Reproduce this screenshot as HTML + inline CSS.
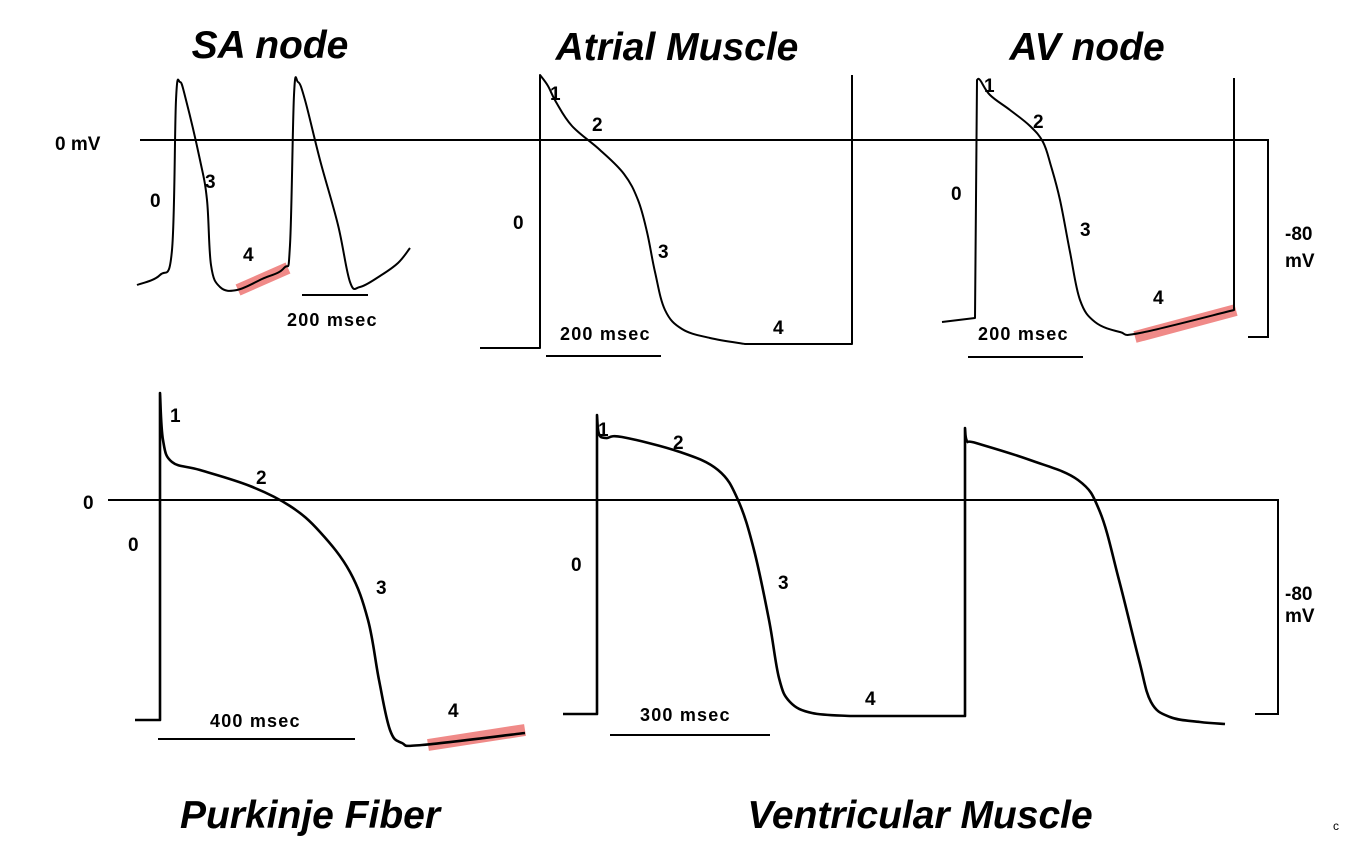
<!DOCTYPE html>
<html><head><meta charset="utf-8"><style>
html,body{margin:0;padding:0;background:#fff;}
svg{display:block;font-family:"Liberation Sans",sans-serif;}
.t{font-size:39px;font-weight:bold;font-style:italic;text-anchor:middle;}
.l{font-size:19px;font-weight:bold;}
.s{font-size:18px;font-weight:bold;letter-spacing:1.2px;}
</style></head><body>
<svg id="c" width="1358" height="853" viewBox="0 0 1358 853" xmlns="http://www.w3.org/2000/svg">
<g>
<text class="t" x="270" y="58">SA node</text>
<text class="t" x="677" y="60">Atrial Muscle</text>
<text class="t" x="1087" y="60">AV node</text>
<text class="t" x="310" y="828">Purkinje Fiber</text>
<text class="t" x="920" y="828">Ventricular Muscle</text>
</g>
<g stroke="#000" stroke-width="2" fill="none">
<polyline points="140,140 1268,140 1268,337 1248,337"/>
<polyline points="108,500 1278,500 1278,714 1255,714"/>
<line x1="302" y1="295" x2="368" y2="295"/>
<line x1="546" y1="356" x2="661" y2="356"/>
<line x1="968" y1="357" x2="1083" y2="357"/>
<line x1="158" y1="739" x2="355" y2="739"/>
<line x1="610" y1="735" x2="770" y2="735"/>
</g>
<g class="l">
<text x="55" y="150">0 mV</text>
<text x="83" y="509">0</text>
<text x="1285" y="240">-80</text>
<text x="1285" y="267">mV</text>
<text x="1285" y="600">-80</text>
<text x="1285" y="622">mV</text>
</g>
<g class="s">
<text x="287" y="326">200 msec</text>
<text x="560" y="340">200 msec</text>
<text x="978" y="340">200 msec</text>
<text x="210" y="727">400 msec</text>
<text x="640" y="721">300 msec</text>
</g>
<g id="highlights"></g>
<g id="curves"></g>
<g id="phases" class="l"></g>
<text x="1333" y="830" font-size="12">c</text>
</svg>
<script>
const saCurve=[[137,285],[160,275],[172,250],[176,100],[180,82],[186,100],[200,160],[207,200],[211,265],[220,287],[237,290],[262,279],[284,268],[290,245],[294,95],[298,82],[305,100],[320,160],[338,225],[350,282],[360,287],[380,276],[398,263],[410,248]];
const atrialCurve=[[480,348],[540,348],[540,75],[548,86],[556,102],[572,126],[600,150],[624,174],[638,200],[647,232],[655,272],[665,310],[682,329],[710,338],[745,344],[852,344],[852,75]];
const avCurve=[[942,322],[975,318],[977,80],[980,80],[990,95],[1010,110],[1030,126],[1043,142],[1051,166],[1060,200],[1070,252],[1080,300],[1095,322],[1120,332],[1140,333],[1234,310],[1234,78]];
const purkinjeCurve=[[135,720],[160,720],[160,393],[163,440],[172,462],[200,470],[250,486],[290,506],[320,532],[350,572],[368,620],[379,680],[390,730],[402,743],[422,745],[525,733]];
const ventricularCurve=[[563,714],[597,714],[597,415],[599,434],[606,438],[622,437],[680,452],[718,470],[738,500],[754,550],[769,620],[779,678],[790,702],[812,713],[850,716],[965,716],[965,428],[967,441],[976,443],[1030,460],[1078,480],[1100,512],[1119,580],[1139,660],[1151,702],[1170,717],[1200,722],[1225,724]];
const highlightSegs=[[238,290,288,268],[1135,337,1236,310],[428,745,525,730]];
const phaseLabels=[["0",150,207],["3",205,188],["4",243,261],["1",550,100],["2",592,131],["0",513,229],["3",658,258],["4",773,334],["1",984,92],["2",1033,128],["0",951,200],["3",1080,236],["4",1153,304],["1",170,422],["2",256,484],["0",128,551],["3",376,594],["4",448,717],["1",598,436],["2",673,449],["0",571,571],["3",778,589],["4",865,705]];
const curveNames=["sa-node-curve","atrial-curve","av-node-curve","purkinje-curve","ventricular-curve"];
const curveWidths=[2,2,2,2.6,2.6];
const NS="http://www.w3.org/2000/svg";
function isStraight(a,b){
  if(!a||!b) return false;
  const dx=Math.abs(a[0]-b[0]),dy=Math.abs(a[1]-b[1]);
  return (dx<=3&&dy>50)||(dy<=1&&dx>30)||(a[0]<b[0]&&a[1]===b[1]&&dx>20);
}
function pathFor(pts){
  let d="M"+pts[0][0]+","+pts[0][1];
  for(let i=0;i<pts.length-1;i++){
    const p1=pts[i],p2=pts[i+1];
    if(isStraight(p1,p2)){d+=" L"+p2[0]+","+p2[1];continue;}
    let p0=pts[i-1]||p1,p3=pts[i+2]||p2;
    if(isStraight(pts[i-1],p1)) p0=p1;
    if(isStraight(p2,pts[i+2])) p3=p2;
    const t=0.18;
    const c1=[p1[0]+(p2[0]-p0[0])*t,p1[1]+(p2[1]-p0[1])*t];
    const c2=[p2[0]-(p3[0]-p1[0])*t,p2[1]-(p3[1]-p1[1])*t];
    d+=" C"+c1.join(",")+" "+c2.join(",")+" "+p2.join(",");
  }
  return d;
}
const hg=document.getElementById("highlights");
highlightSegs.forEach(s=>{
  const l=document.createElementNS(NS,"line");
  l.setAttribute("x1",s[0]);l.setAttribute("y1",s[1]);l.setAttribute("x2",s[2]);l.setAttribute("y2",s[3]);
  l.setAttribute("stroke","#f08a88");l.setAttribute("stroke-width","12");
  
  
  hg.appendChild(l);
});
const cg=document.getElementById("curves");
[saCurve,atrialCurve,avCurve,purkinjeCurve,ventricularCurve].forEach((c,i)=>{
  const p=document.createElementNS(NS,"path");
  p.setAttribute("d",pathFor(c));p.setAttribute("fill","none");p.setAttribute("stroke","#000");
  p.setAttribute("stroke-width",curveWidths[i]);p.setAttribute("stroke-linejoin","round");
  
  
  cg.appendChild(p);
});
const pg=document.getElementById("phases");
phaseLabels.forEach(a=>{
  const t=document.createElementNS(NS,"text");
  t.setAttribute("x",a[1]);t.setAttribute("y",a[2]);t.textContent=a[0];
  
  
  pg.appendChild(t);
});
</script>
</body></html>
